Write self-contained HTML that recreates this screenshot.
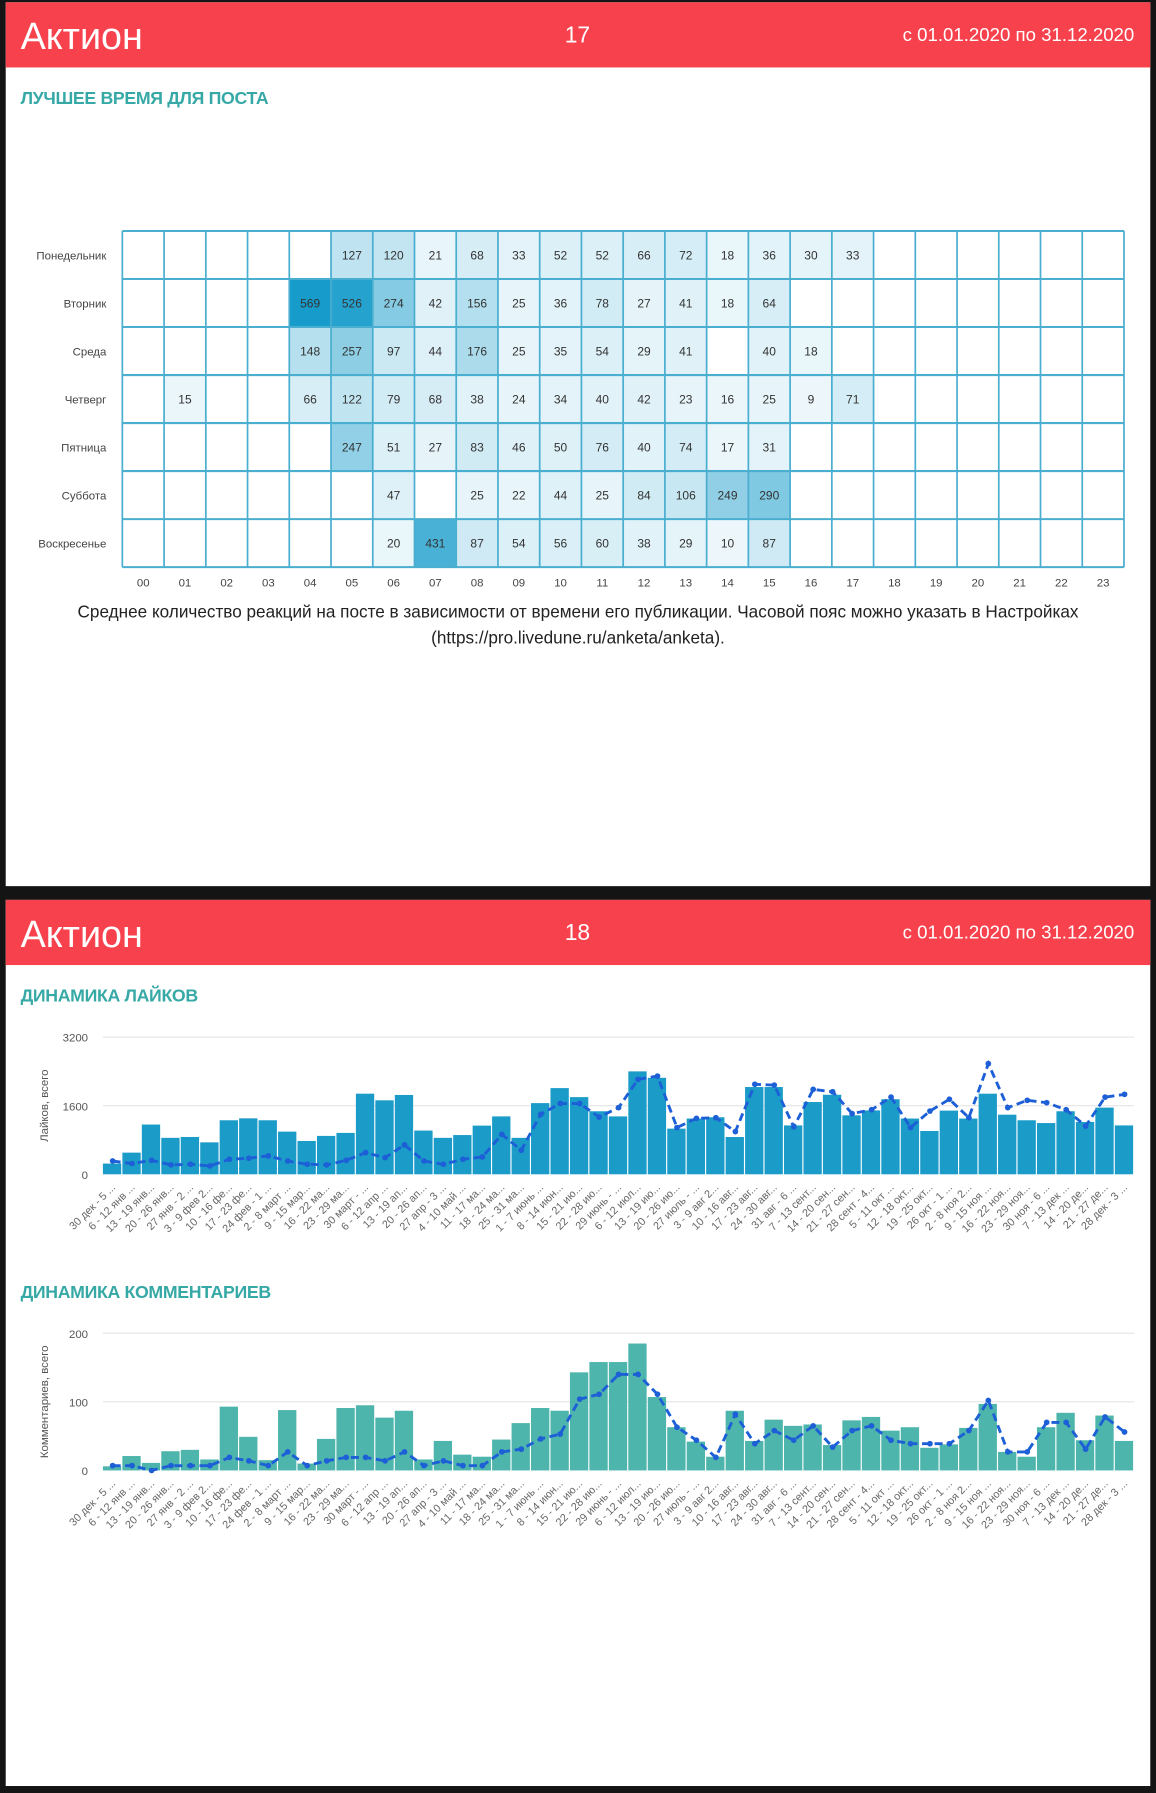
<!DOCTYPE html>
<html><head><meta charset="utf-8">
<style>
html,body{margin:0;padding:0;background:#141414;width:1156px;height:1792px;overflow:hidden}
#w{position:absolute;left:0;top:0;width:1011px;height:1568px;transform:scale(1.14342);transform-origin:0 0;font-family:"Liberation Sans","DejaVu Sans",sans-serif}
.card{position:absolute;left:5px;width:1001px;background:#fff}
.hdr{position:absolute;left:0;top:0;width:1001px;height:57px;background:#f7414d;color:#fff}
.hdr .a{position:absolute;left:13px;top:11px;font-size:33px}
.hdr .n{position:absolute;left:480px;top:18px;font-size:20px;width:40px;text-align:center}
.hdr .d{position:absolute;right:14px;top:20px;font-size:16.3px}
.t{position:absolute;left:13px;color:#36a9a6;font-size:15.5px;font-weight:bold;letter-spacing:-0.3px}
svg text{font-family:"Liberation Sans","DejaVu Sans",sans-serif}
</style></head><body>
<div id="w">
<div class="card" style="top:2px;height:773px">
 <div class="hdr"><div class="a">Актион</div><div class="n">17</div><div class="d">с 01.01.2020 по 31.12.2020</div></div>
 <div class="t" style="top:76px">ЛУЧШЕЕ ВРЕМЯ ДЛЯ ПОСТА</div>
 <div style="position:absolute;left:0;width:1001px;top:522px;text-align:center;font-size:15px;color:#222;line-height:23px">Среднее количество реакций на посте в зависимости от времени его публикации. Часовой пояс можно указать в Настройках<br>(https://pro.livedune.ru/anketa/anketa).</div>
</div>
<div class="card" style="top:787px;height:775px">
 <div class="hdr"><div class="a">Актион</div><div class="n">18</div><div class="d">с 01.01.2020 по 31.12.2020</div></div>
 <div class="t" style="top:76px">ДИНАМИКА ЛАЙКОВ</div>
 <div class="t" style="top:335px">ДИНАМИКА КОММЕНТАРИЕВ</div>
</div>
<svg id="s" width="1011" height="1568" style="position:absolute;left:0;top:0"></svg>
</div>
<script>
var s=document.getElementById('s'),h='';
var days=['Понедельник','Вторник','Среда','Четверг','Пятница','Суббота','Воскресенье'];
var D=[{5:127,6:120,7:21,8:68,9:33,10:52,11:52,12:66,13:72,14:18,15:36,16:30,17:33},
{4:569,5:526,6:274,7:42,8:156,9:25,10:36,11:78,12:27,13:41,14:18,15:64},
{4:148,5:257,6:97,7:44,8:176,9:25,10:35,11:54,12:29,13:41,15:40,16:18},
{1:15,4:66,5:122,6:79,7:68,8:38,9:24,10:34,11:40,12:42,13:23,14:16,15:25,16:9,17:71},
{5:247,6:51,7:27,8:83,9:46,10:50,11:76,12:40,13:74,14:17,15:31},
{6:47,8:25,9:22,10:44,11:25,12:84,13:106,14:249,15:290},
{6:20,7:431,8:87,9:54,10:56,11:60,12:38,13:29,14:10,15:87}];
var x0=107,x1=983,y0=202,cw=(x1-x0)/24,rh=42;
for(var r=0;r<7;r++){
 h+='<text x="93" y="'+(y0+r*rh+25)+'" font-size="10" fill="#444" text-anchor="end">'+days[r]+'</text>';
 for(var c=0;c<24;c++){var v=D[r][c];
  if(v!==undefined){var a=Math.min(0.95,0.06+0.9*v/569);
   h+='<rect x="'+(x0+c*cw)+'" y="'+(y0+r*rh)+'" width="'+cw+'" height="'+rh+'" fill="rgba(10,150,200,'+a+')"/>';
   h+='<text x="'+(x0+c*cw+cw/2)+'" y="'+(y0+r*rh+25)+'" font-size="10.5" fill="#333" text-anchor="middle">'+v+'</text>';}
 }}
for(var c=0;c<=24;c++)h+='<line x1="'+(x0+c*cw)+'" y1="'+y0+'" x2="'+(x0+c*cw)+'" y2="'+(y0+7*rh)+'" stroke="#4aaed0" stroke-width="1.5"/>';
for(var r=0;r<=7;r++)h+='<line x1="'+x0+'" y1="'+(y0+r*rh)+'" x2="'+x1+'" y2="'+(y0+r*rh)+'" stroke="#4aaed0" stroke-width="1.8"/>';
for(var c=0;c<24;c++)h+='<text x="'+(x0+c*cw+cw/2)+'" y="513" font-size="10" fill="#444" text-anchor="middle">'+(c<10?'0'+c:c)+'</text>';
var labs=['30 дек - 5 ...','6 - 12 янв ...','13 - 19 янв...','20 - 26 янв...','27 янв - 2 ...','3 - 9 фев 2...','10 - 16 фе...','17 - 23 фе...','24 фев - 1 ...','2 - 8 март ...','9 - 15 мар...','16 - 22 ма...','23 - 29 ма...','30 март - ...','6 - 12 апр ...','13 - 19 ап...','20 - 26 ап...','27 апр - 3 ...','4 - 10 май ...','11 - 17 ма...','18 - 24 ма...','25 - 31 ма...','1 - 7 июнь ...','8 - 14 июн...','15 - 21 ию...','22 - 28 ию...','29 июнь - ...','6 - 12 июл...','13 - 19 ию...','20 - 26 ию...','27 июль - ...','3 - 9 авг 2...','10 - 16 авг...','17 - 23 авг...','24 - 30 авг...','31 авг - 6 ...','7 - 13 сент...','14 - 20 сен...','21 - 27 сен...','28 сент - 4...','5 - 11 окт ...','12 - 18 окт...','19 - 25 окт...','26 окт - 1 ...','2 - 8 ноя 2...','9 - 15 ноя ...','16 - 22 ноя...','23 - 29 ноя...','30 ноя - 6 ...','7 - 13 дек ...','14 - 20 де...','21 - 27 де...','28 дек - 3 ...'];
function chart(ybase,ytop,max,mid,bars,line,col,title){
 var px0=90,px1=992,n=bars.length,bw=(px1-px0)/n,H=ybase-ytop;
 h+='<line x1="'+px0+'" y1="'+ytop+'" x2="'+px1+'" y2="'+ytop+'" stroke="#e4e4e4"/>';
 h+='<line x1="'+px0+'" y1="'+(ybase-H/2)+'" x2="'+px1+'" y2="'+(ybase-H/2)+'" stroke="#e4e4e4"/>';
 h+='<text x="77" y="'+(ytop+4)+'" font-size="10" fill="#555" text-anchor="end">'+max+'</text>';
 h+='<text x="77" y="'+(ybase-H/2+4)+'" font-size="10" fill="#555" text-anchor="end">'+mid+'</text>';
 h+='<text x="77" y="'+(ybase+4)+'" font-size="10" fill="#555" text-anchor="end">0</text>';
 h+='<text transform="translate(42,'+(ybase-H/2)+') rotate(-90)" font-size="10" fill="#555" text-anchor="middle">'+title+'</text>';
 for(var i=0;i<n;i++){var bh=bars[i]/max*H;
  h+='<rect x="'+(px0+i*bw)+'" y="'+(ybase-bh)+'" width="'+(bw-1)+'" height="'+bh+'" fill="'+col+'"/>';
  var cx=px0+i*bw+bw/2;
  h+='<text transform="translate('+(cx+3)+','+(ybase+12)+') rotate(-45)" font-size="9.5" fill="#666" text-anchor="end">'+labs[i]+'</text>';}
 var p='';for(var i=0;i<n;i++){p+=(i?'L':'M')+(px0+i*bw+bw/2).toFixed(1)+','+(ybase-line[i]/max*H).toFixed(1);}
 h+='<path d="'+p+'" fill="none" stroke="#1d5fd6" stroke-width="2.5" stroke-dasharray="7,4"/>';
 for(var i=0;i<n;i++)h+='<circle cx="'+(px0+i*bw+bw/2)+'" cy="'+(ybase-line[i]/max*H)+'" r="2.5" fill="#1d5fd6"/>';
}
var lb=[250,505,1160,850,870,745,1260,1305,1260,995,777,895,965,1880,1725,1850,1020,850,915,1135,1350,850,1660,2010,1800,1470,1350,2400,2250,1065,1300,1330,870,2035,2035,1140,1685,1855,1375,1490,1750,1300,1010,1485,1300,1880,1390,1260,1195,1470,1220,1555,1140];
var ll=[310,250,325,220,235,195,350,375,430,310,235,220,325,505,390,685,310,235,350,405,930,560,1400,1650,1650,1335,1555,2215,2290,1090,1305,1320,995,2100,2080,1105,1980,1925,1415,1505,1800,1090,1475,1750,1320,2580,1555,1725,1670,1505,1125,1800,1865];
chart(1027,907,3200,1600,lb,ll,'#1a9bc8','Лайков, всего');
var cb=[6,21,11,28,30,16,93,49,15,88,10,46,91,95,77,87,16,43,23,20,45,69,91,87,143,158,158,185,107,63,42,20,87,43,74,65,67,37,73,78,58,63,33,38,62,97,27,20,63,84,44,80,43];
var cl=[7,7,0,7,7,7,19,14,7,27,7,14,19,19,14,27,7,14,7,7,27,31,46,53,104,111,140,140,111,63,44,19,82,39,58,44,65,34,58,65,44,39,39,39,58,102,27,27,70,70,31,78,56];
chart(1286,1166,200,100,cb,cl,'#4db5ab','Комментариев, всего');
s.innerHTML=h;
</script>
</body></html>
